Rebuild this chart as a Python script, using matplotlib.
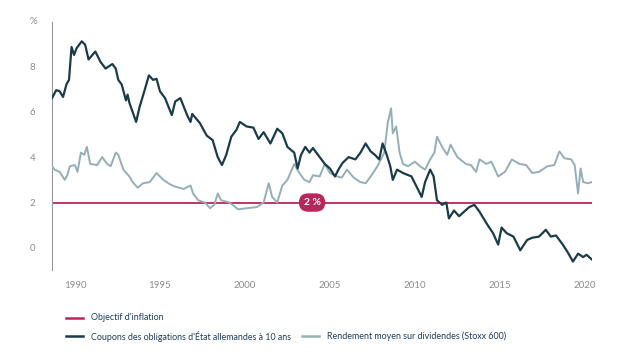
import matplotlib.pyplot as plt
from matplotlib.lines import Line2D

# German 10y bund yield (decimal year, %)
bund_years = [1988.65, 1988.9, 1989.1, 1989.3, 1989.5, 1989.65, 1989.8, 1989.95, 1990.1, 1990.4,
              1990.6, 1990.8, 1991.2, 1991.5, 1991.8, 1992.2, 1992.4, 1992.55, 1992.75, 1993.0,
              1993.1, 1993.2, 1993.6, 1993.8, 1994.1, 1994.35, 1994.6, 1994.8, 1995.0, 1995.3,
              1995.7, 1995.9, 1996.2, 1996.6, 1996.8, 1996.9, 1997.35, 1997.75, 1998.1, 1998.4,
              1998.65, 1998.9, 1999.2, 1999.5, 1999.7, 2000.1, 2000.5, 2000.8, 2001.1, 2001.5,
              2001.9, 2002.2, 2002.5, 2002.9, 2003.1, 2003.3, 2003.55, 2003.8, 2004.0, 2004.4,
              2004.7, 2005.0, 2005.3, 2005.5, 2005.75, 2006.1, 2006.5, 2006.8, 2007.1, 2007.4,
              2007.65, 2007.9, 2008.1, 2008.3, 2008.55, 2008.7, 2008.95, 2009.3, 2009.8, 2010.1,
              2010.4, 2010.6, 2010.9, 2011.1, 2011.3, 2011.6, 2011.85, 2012.0, 2012.3, 2012.6,
              2012.9, 2013.2, 2013.5, 2013.8, 2014.2, 2014.6, 2014.9, 2015.1, 2015.4, 2015.8,
              2016.2, 2016.6, 2016.9, 2017.3, 2017.7, 2018.0, 2018.3, 2018.7, 2019.0, 2019.3,
              2019.6, 2019.9, 2020.1, 2020.4]
bund_yield = [6.6, 6.95, 6.9, 6.65, 7.2, 7.4, 8.85, 8.5, 8.8, 9.1,
              8.95, 8.3, 8.65, 8.2, 7.9, 8.1, 7.9, 7.4, 7.2, 6.5,
              6.75, 6.4, 5.55, 6.2, 6.95, 7.6, 7.4, 7.45, 6.9, 6.6,
              5.85, 6.45, 6.6, 5.85, 5.55, 5.9, 5.5, 4.95, 4.75, 4.0,
              3.65, 4.1, 4.9, 5.2, 5.55, 5.35, 5.3, 4.8, 5.1, 4.6,
              5.25, 5.05, 4.45, 4.2, 3.5, 4.1, 4.45, 4.2, 4.4, 4.0,
              3.7, 3.5, 3.15, 3.45, 3.75, 4.0, 3.9, 4.2, 4.6, 4.25,
              4.1, 3.9, 4.6, 4.2, 3.6, 3.0, 3.45, 3.3, 3.15, 2.7,
              2.25, 2.9, 3.45, 3.15, 2.1, 1.9, 2.0, 1.3, 1.65, 1.4,
              1.6, 1.8, 1.9, 1.6, 1.1, 0.65, 0.15, 0.9, 0.65, 0.5,
              -0.1, 0.35, 0.45, 0.5, 0.8, 0.5, 0.55, 0.15, -0.2, -0.6,
              -0.25, -0.4, -0.3, -0.5]

# Stoxx 600 average dividend yield (decimal year, %)
div_years = [1988.65, 1988.8, 1989.1, 1989.4, 1989.55, 1989.7, 1990.0, 1990.15, 1990.35, 1990.55,
             1990.7, 1990.9, 1991.3, 1991.6, 1991.9, 1992.1, 1992.4, 1992.55, 1992.85, 1993.2,
             1993.4, 1993.7, 1994.0, 1994.4, 1994.8, 1995.2, 1995.6, 1995.9, 1996.4, 1996.8,
             1996.95, 1997.25, 1997.65, 1997.95, 1998.2, 1998.4, 1998.6, 1999.1, 1999.6, 2000.1,
             2000.7, 2001.1, 2001.4, 2001.6, 2001.9, 2002.2, 2002.5, 2002.9, 2003.2, 2003.5,
             2003.8, 2004.0, 2004.4, 2004.7, 2005.0, 2005.4, 2005.7, 2006.0, 2006.4, 2006.8,
             2007.1, 2007.4, 2007.8, 2008.2, 2008.4, 2008.6, 2008.7, 2008.9, 2009.1, 2009.3,
             2009.6, 2010.0, 2010.3, 2010.6, 2010.9, 2011.15, 2011.3, 2011.6, 2011.9, 2012.1,
             2012.5, 2013.0, 2013.3, 2013.6, 2013.8, 2014.2, 2014.5, 2014.9, 2015.3, 2015.7,
             2016.15, 2016.55, 2016.9, 2017.3, 2017.8, 2018.2, 2018.5, 2018.8, 2019.2, 2019.4,
             2019.6, 2019.75, 2019.9, 2020.2, 2020.4]
div_yield = [3.6, 3.45, 3.35, 3.0, 3.2, 3.6, 3.65, 3.35, 4.2, 4.1,
             4.45, 3.7, 3.65, 4.0, 3.7, 3.6, 4.2, 4.1, 3.45, 3.15,
             2.9, 2.65, 2.85, 2.9, 3.3, 3.0, 2.8, 2.7, 2.6, 2.75,
             2.4, 2.1, 2.0, 1.75, 1.9, 2.4, 2.1, 2.0, 1.7, 1.75,
             1.8, 2.0, 2.85, 2.25, 2.0, 2.75, 3.0, 3.7, 3.3, 3.0,
             2.9, 3.2, 3.15, 3.7, 3.3, 3.15, 3.1, 3.45, 3.1, 2.9,
             2.85, 3.15, 3.6, 4.2, 5.5, 6.15, 5.05, 5.35, 4.2, 3.7,
             3.6, 3.8, 3.6, 3.45, 3.9, 4.2, 4.9, 4.45, 4.1, 4.55,
             4.0, 3.7, 3.65, 3.35, 3.9, 3.7, 3.8, 3.15, 3.35, 3.9,
             3.7, 3.65, 3.3, 3.35, 3.6, 3.65, 4.25, 3.95, 3.9, 3.65,
             2.4, 3.5, 2.9, 2.85, 2.9]

inflation_target = 2.0
year_ticks = [1990, 1995, 2000, 2005, 2010, 2015, 2020]
value_ticks = [0, 2, 4, 6, 8]

red = '#b8275a'
dark = '#1a3c48'
light = '#94afb7'
grey = '#8c8c8c'
text_col = '#1f3d5c'

plt.rcParams['font.family'] = ['Lato', 'DejaVu Sans']

fig = plt.figure(figsize=(6.17, 3.64), dpi=100)
ax = fig.add_axes([52 / 617, 1 - 270 / 364, 540 / 617, 248 / 364])

x0, x1 = 1988.65, 2020.42
ax.plot([x0, x1], [inflation_target, inflation_target], color=red, lw=1.3, zorder=2)
ax.plot(div_years, div_yield, color=light, lw=1.4, zorder=3)
ax.plot(bund_years, bund_yield, color=dark, lw=1.6, zorder=4)

ax.text(2003.95, inflation_target, '2 %', color='white', fontsize=7.5, fontweight='bold',
        ha='center', va='center', zorder=5,
        bbox=dict(boxstyle='round,pad=0.45,rounding_size=0.9', fc=red, ec='none'))

ax.set_xlim(x0, x1)
ax.set_ylim(-0.97, 9.95)
ax.set_xticks(year_ticks)
ax.set_yticks(value_ticks)
ax.tick_params(length=0, labelsize=7, colors=grey)
ax.tick_params(axis='y', pad=12)
ax.tick_params(axis='x', pad=8)
for side in ['top', 'right', 'bottom']:
    ax.spines[side].set_visible(False)
ax.spines['left'].set_color('#999999')
ax.spines['left'].set_linewidth(0.8)

fig.text(33 / 617, 1 - 22 / 364, '%', fontsize=7, color=grey, ha='center', va='center')

# legend drawn manually at the bottom
def legend_item(x, y, color, label):
    fig.add_artist(Line2D([x / 617, (x + 17) / 617], [1 - y / 364, 1 - y / 364],
                          color=color, lw=1.8))
    fig.text((x + 25) / 617, 1 - y / 364, label, fontsize=6.4, color=text_col,
             ha='left', va='center')

legend_item(66, 318, red, "Objectif d'inflation")
legend_item(66, 336, dark, "Coupons des obligations d'État allemandes à 10 ans")
legend_item(302, 336, light, 'Rendement moyen sur dividendes (Stoxx 600)')

fig.savefig('out.png', dpi=100)
